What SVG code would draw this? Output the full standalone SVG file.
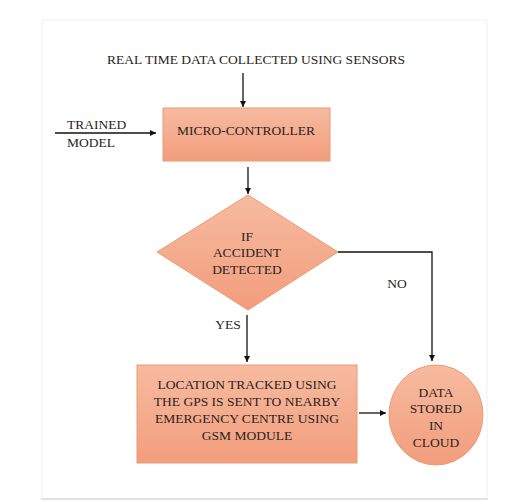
<svg xmlns="http://www.w3.org/2000/svg" width="515" height="501" viewBox="0 0 515 501">
<style>
text{font-family:"Liberation Serif","Times New Roman","DejaVu Serif",serif;font-size:13.5px;fill:#2a2420;text-anchor:middle}
.l{text-anchor:start}
.shape{fill:url(#g);stroke:#eb9a76;stroke-width:1}
.c{fill:none;stroke:#111;stroke-width:1.3}
</style>
<defs>
<linearGradient id="g" x1="0" y1="0" x2="0" y2="1">
<stop offset="0" stop-color="#f7bba0"/>
<stop offset="1" stop-color="#f29d7c"/>
</linearGradient>
<marker id="a" markerWidth="8" markerHeight="8" refX="6" refY="3" orient="auto" markerUnits="userSpaceOnUse">
<path d="M0,0 L6,3 L0,6 Z" fill="#111"/>
</marker>
</defs>
<rect width="515" height="501" fill="#fff"/>
<path d="M42,498 V20 H487 V498" fill="none" stroke="#f0f0f0" stroke-width="1"/>
<line x1="41" y1="499" x2="488" y2="499" stroke="#d9d9d9" stroke-width="1.5"/>
<g id="sensors"><text x="256" y="64">REAL TIME DATA COLLECTED USING SENSORS</text></g>
<g id="trained"><text class="l" x="67" y="129">TRAINED</text><text class="l" x="67" y="147">MODEL</text></g>
<g id="micro"><rect class="shape" x="163" y="108" width="167" height="53"/><text x="246" y="135">MICRO-CONTROLLER</text></g>
<g id="decision"><polygon class="shape" points="248,195 338,252 248,310 157,252"/>
<text x="247" y="241">IF</text><text x="247" y="257">ACCIDENT</text><text x="247" y="274">DETECTED</text></g>
<g id="location"><rect class="shape" x="137" y="365" width="220" height="98"/>
<text x="247" y="389">LOCATION TRACKED USING</text><text x="247" y="406">THE GPS IS SENT TO NEARBY</text><text x="247" y="423">EMERGENCY CENTRE USING</text><text x="247" y="440">GSM MODULE</text></g>
<g id="cloud"><ellipse class="shape" cx="436" cy="415" rx="47" ry="50"/>
<text x="436" y="397">DATA</text><text x="436" y="413">STORED</text><text x="436" y="430">IN</text><text x="436" y="447">CLOUD</text></g>
<g id="connectors">
<line class="c" x1="243" y1="73" x2="243" y2="107" marker-end="url(#a)"/>
<line class="c" x1="55" y1="133" x2="156" y2="133" marker-end="url(#a)"/>
<line class="c" x1="248" y1="167" x2="248" y2="194" marker-end="url(#a)"/>
<polyline class="c" points="338,252 432,252 432,361" marker-end="url(#a)"/>
<line class="c" x1="247" y1="315" x2="247" y2="362" marker-end="url(#a)"/>
<line class="c" x1="359" y1="413" x2="386" y2="413" marker-end="url(#a)"/>
<text x="397" y="288">NO</text>
<text x="228" y="329">YES</text>
</g>
</svg>
